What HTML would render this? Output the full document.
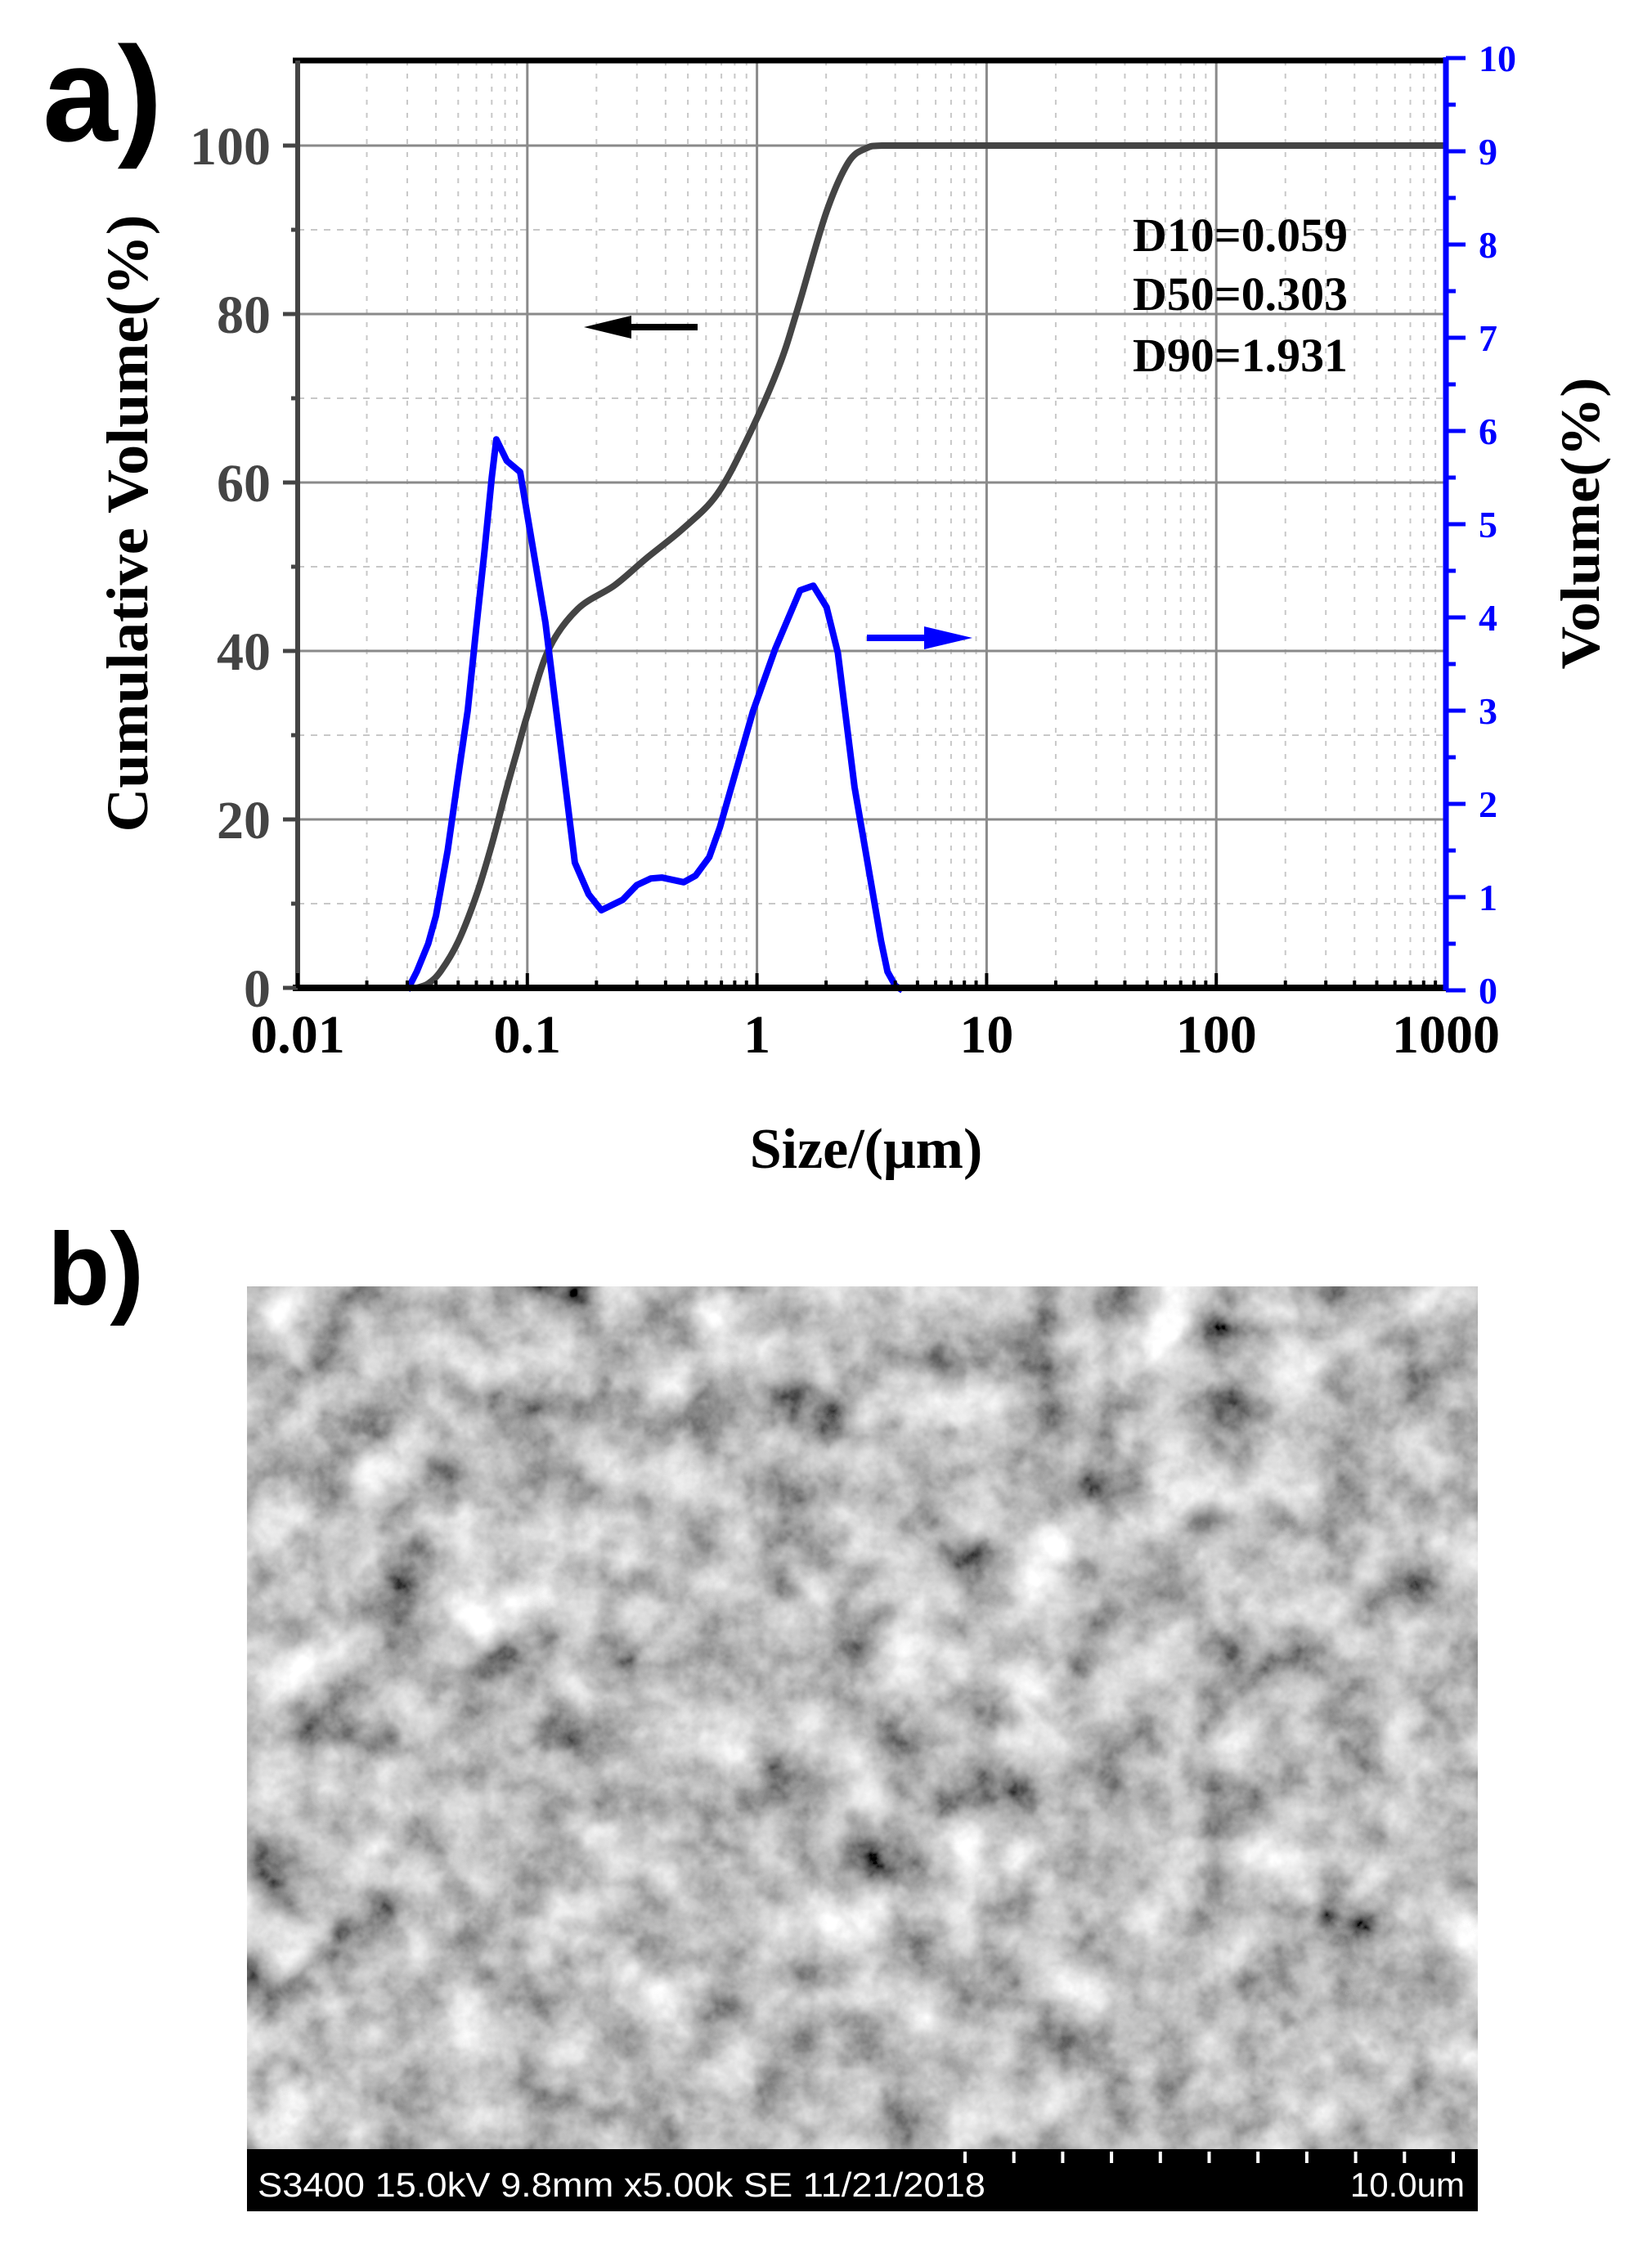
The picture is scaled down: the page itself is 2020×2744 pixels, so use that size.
<!DOCTYPE html>
<html><head><meta charset="utf-8"><style>
html,body{margin:0;padding:0;background:#fff;}
svg{display:block;}
</style></head><body>
<svg id="s" width="2020" height="2744" viewBox="0 0 2020 2744" xmlns="http://www.w3.org/2000/svg">
<defs>
<filter id="sem" x="0" y="0" width="100%" height="100%">
<feTurbulence type="fractalNoise" baseFrequency="0.013" numOctaves="5" seed="11" result="n"/>
<feColorMatrix in="n" type="matrix" values="0.33 0.33 0.33 0 0  0.33 0.33 0.33 0 0  0.33 0.33 0.33 0 0  0 0 0 0 1" result="g"/>
<feComponentTransfer in="g"><feFuncR type="linear" slope="2.3" intercept="-0.62"/><feFuncG type="linear" slope="2.3" intercept="-0.62"/><feFuncB type="linear" slope="2.3" intercept="-0.62"/></feComponentTransfer>
</filter>
</defs>
<rect width="2020" height="2744" fill="#fff"/>
<g id="grid"></g>
<text x="52" y="172" font-family="Liberation Sans,sans-serif" font-weight="bold" font-size="165">a)</text>
<text x="58" y="1595" font-family="Liberation Sans,sans-serif" font-weight="bold" font-size="125">b)</text>
<g font-family="Liberation Serif,serif" font-weight="bold" font-size="66" fill="#444" text-anchor="end" id="ylab"></g>
<g font-family="Liberation Serif,serif" font-weight="bold" font-size="66" fill="#000" text-anchor="middle" id="xlab"></g>
<g font-family="Liberation Serif,serif" font-weight="bold" font-size="46" fill="#0000ff" id="rlab"></g>
<text transform="translate(180,640) rotate(-90)" text-anchor="middle" font-family="Liberation Serif,serif" font-weight="bold" font-size="72" textLength="755" lengthAdjust="spacingAndGlyphs">Cumulative Volume(%)</text>
<text transform="translate(1955,640) rotate(-90)" text-anchor="middle" font-family="Liberation Serif,serif" font-weight="bold" font-size="68" textLength="357" lengthAdjust="spacingAndGlyphs">Volume(%)</text>
<text x="1059" y="1428" text-anchor="middle" font-family="Liberation Serif,serif" font-weight="bold" font-size="70">Size/(μm)</text>
<g font-family="Liberation Serif,serif" font-weight="bold" font-size="58">
<text x="1385" y="307" textLength="263" lengthAdjust="spacingAndGlyphs">D10=0.059</text>
<text x="1385" y="379" textLength="263" lengthAdjust="spacingAndGlyphs">D50=0.303</text>
<text x="1385" y="454" textLength="263" lengthAdjust="spacingAndGlyphs">D90=1.931</text>
</g>
<line x1="853" y1="400" x2="765" y2="400" stroke="#000" stroke-width="8"/>
<polygon points="714,400 772,386 772,414" fill="#000"/>
<line x1="1060" y1="780" x2="1140" y2="780" stroke="#0000ff" stroke-width="8"/>
<polygon points="1189,780 1130,766 1130,794" fill="#0000ff"/>
<rect x="302" y="1573" width="1505" height="1055" fill="#888"/>
<rect x="302" y="1573" width="1505" height="1055" filter="url(#sem)"/>
<rect x="302" y="2628" width="1505" height="76" fill="#000"/>
<g id="sb" stroke="#fff" stroke-width="4"></g>
<text x="315" y="2686" font-family="Liberation Sans,sans-serif" font-size="42" fill="#fff" textLength="890" lengthAdjust="spacingAndGlyphs">S3400 15.0kV 9.8mm x5.00k SE  11/21/2018</text>
<text x="1791" y="2686" text-anchor="end" font-family="Liberation Sans,sans-serif" font-size="42" fill="#fff">10.0um</text>
</svg>
<script>
(function(){
var NS="http://www.w3.org/2000/svg";
function el(p,t,a,txt){var e=document.createElementNS(NS,t);for(var k in a)e.setAttribute(k,a[k]);if(txt!==undefined)e.textContent=txt;p.appendChild(e);return e;}
var L=364,R=1768,T=74,B=1208,D=280.8;
function X(v){return L+D*(Math.log10(v)+2);}
function Y(c){return B-10.3*c;}
function YB(v){return 1211-114*v;}
var g=document.getElementById('grid');
for(var d=-2;d<3;d++)for(var m=2;m<10;m++){var x=X(m*Math.pow(10,d));el(g,'line',{x1:x,y1:T,x2:x,y2:B,stroke:'#c8c8c8','stroke-width':2,'stroke-dasharray':'6,10'});}
for(var c=10;c<=110;c+=20){el(g,'line',{x1:L,y1:Y(c),x2:R,y2:Y(c),stroke:'#c8c8c8','stroke-width':2,'stroke-dasharray':'8,8'});}
for(var d=-1;d<3;d++){var x=X(Math.pow(10,d));el(g,'line',{x1:x,y1:T,x2:x,y2:B,stroke:'#8a8a8a','stroke-width':3});}
for(var c=20;c<=100;c+=20){el(g,'line',{x1:L,y1:Y(c),x2:R,y2:Y(c),stroke:'#8a8a8a','stroke-width':3});}
var cum=[[0.033,0],[0.037,0.5],[0.042,2],[0.05,5.5],[0.06,11],[0.07,17],[0.08,23],[0.09,28],[0.1,32.4],[0.124,40.2],[0.166,45],[0.24,47.8],[0.33,51],[0.48,54.6],[0.67,58.6],[0.9,65],[1.24,73.6],[1.5,80.5],[2.0,92],[2.5,98],[3.0,99.7],[3.5,100],[5,100],[20,100],[1000,100]];
var blue=[[0.030,0],[0.033,0.2],[0.037,0.5],[0.04,0.8],[0.045,1.5],[0.05,2.3],[0.055,3.0],[0.06,3.9],[0.065,4.7],[0.07,5.5],[0.0733,5.91],[0.0814,5.68],[0.093,5.56],[0.12,3.94],[0.161,1.37],[0.185,1.03],[0.21,0.86],[0.26,0.97],[0.30,1.13],[0.345,1.2],[0.385,1.21],[0.48,1.16],[0.54,1.23],[0.62,1.43],[0.69,1.75],[0.96,2.99],[1.2,3.66],[1.54,4.29],[1.76,4.34],[2.01,4.11],[2.25,3.62],[2.66,2.18],[3.47,0.53],[3.7,0.2],[4.0,0.05],[4.3,0]];
function cr(pts){var p=pts.map(function(a){return [X(a[0]),Y(a[1])];});var s='M'+p[0][0].toFixed(1)+','+p[0][1].toFixed(1);
for(var i=0;i<p.length-1;i++){var p0=p[i-1]||p[i],p1=p[i],p2=p[i+1],p3=p[i+2]||p2;
var c1=[p1[0]+(p2[0]-p0[0])/6,p1[1]+(p2[1]-p0[1])/6],c2=[p2[0]-(p3[0]-p1[0])/6,p2[1]-(p3[1]-p1[1])/6];
if(p1[1]==p2[1]){c1=[p1[0]+(p2[0]-p1[0])/3,p1[1]];c2=[p2[0]-(p2[0]-p1[0])/3,p2[1]];}
s+=' C'+c1[0].toFixed(1)+','+c1[1].toFixed(1)+' '+c2[0].toFixed(1)+','+c2[1].toFixed(1)+' '+p2[0].toFixed(1)+','+p2[1].toFixed(1);}return s;}
var ins=document.getElementById('ylab');
el(g,'path',{d:cr(cum),fill:'none',stroke:'#444','stroke-width':8});
var bp=blue.map(function(a){return X(a[0]).toFixed(1)+','+YB(a[1]).toFixed(1);}).join(' ');
el(g,'polyline',{points:bp,fill:'none',stroke:'#0000ff','stroke-width':8,'stroke-linejoin':'round'});
el(g,'line',{x1:L-6,y1:T,x2:R,y2:T,stroke:'#000','stroke-width':7});
el(g,'line',{x1:L,y1:T,x2:L,y2:B,stroke:'#444','stroke-width':6});
el(g,'line',{x1:L-6,y1:B,x2:R,y2:B,stroke:'#000','stroke-width':8});
el(g,'line',{x1:R,y1:T-4,x2:R,y2:B+3,stroke:'#0000ff','stroke-width':7});
for(var c=0;c<=100;c+=10){el(g,'line',{x1:L-(c%20?8:18),y1:Y(c),x2:L,y2:Y(c),stroke:'#444','stroke-width':5});}
for(var c=0;c<=100;c+=20){el(ins,'text',{x:331,y:Y(c)+23},String(c));}
for(var d=-2;d<3;d++)for(var m=1;m<10;m++){var x=X(m*Math.pow(10,d));el(g,'line',{x1:x,y1:B,x2:x,y2:B-(m==1?18:9),stroke:'#000','stroke-width':4});}
var xl=['0.01','0.1','1','10','100','1000'];var xg=document.getElementById('xlab');
for(var i=0;i<6;i++){el(xg,'text',{x:L+D*i,y:1287},xl[i]);}
var rg=document.getElementById('rlab');
for(var v=0;v<=10;v+=0.5){var y=YB(v);el(g,'line',{x1:R,y1:y,x2:R+(v%1?12:24),y2:y,stroke:'#0000ff','stroke-width':5});}
for(var v=0;v<=10;v++){el(rg,'text',{x:1808,y:YB(v)+16},String(v));}
var sb=document.getElementById('sb');
for(var x=1180;x<=1780;x+=59.7){el(sb,'line',{x1:x,y1:2631,x2:x,y2:2645});}
})();
</script>
</body></html>
